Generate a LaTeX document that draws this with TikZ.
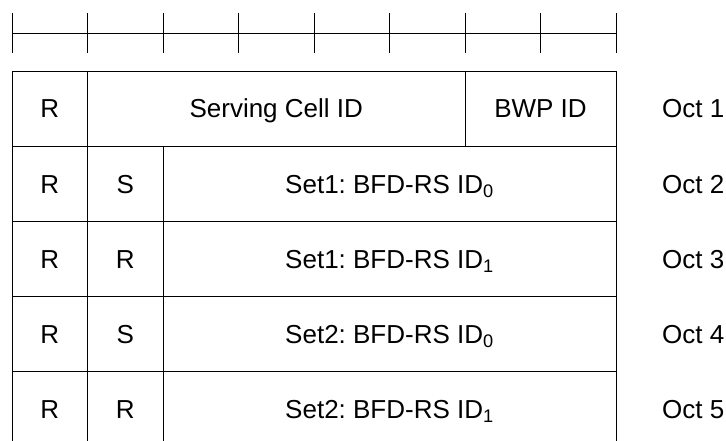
\documentclass[tikz,border=0pt]{standalone}
\usepackage{fontspec}
\setmainfont{Liberation Sans}
\usetikzlibrary{positioning}
\frenchspacing
\tikzset{
  fld/.style={
    draw=black, line width=0.9pt, inner sep=0pt, outer sep=0pt,
    minimum height=75.2pt, align=center, text height=24.7pt, text depth=6pt,
    font=\fontsize{26}{30}\selectfont
  },
  octlbl/.style={anchor=west, inner sep=0pt, text height=24.7pt, text depth=6pt,
    font=\fontsize{26}{30}\selectfont},
  rulerln/.style={draw=black, line width=0.9pt}
}

\begin{document}
\begin{tikzpicture}[x=1pt,y=-1pt]
  \useasboundingbox (0,0) rectangle (726,441);
  % bit ruler
  \draw[rulerln] (12,33) -- (616,33);
  \foreach \i in {0,...,8}
    \draw[rulerln] ({12+75.5*\i},13) -- ({12+75.5*\i},53);
  % octet 1
  \node[fld, minimum width=75.5pt] (r1a) at (49.75,108.6) {R};
  \node[fld, minimum width=377.5pt] (scid) at (276.25,108.6) {Serving Cell ID};
  \node[fld, minimum width=151pt] (bwp) at (540.5,108.6) {BWP ID};
  \node[octlbl] (oct1) at (662,108.6) {Oct 1};
  % octet 2
  \node[fld, minimum width=75.5pt] (r2a) at (49.75,183.8) {R};
  \node[fld, minimum width=75.5pt] (s2) at (125.25,183.8) {S};
  \node[fld, minimum width=453pt] (id20) at (389.5,183.8) {Set1: BFD-RS ID\textsubscript{0}};
  \node[octlbl] (oct2) at (662,183.8) {Oct 2};
  % octet 3
  \node[fld, minimum width=75.5pt] (r3a) at (49.75,259) {R};
  \node[fld, minimum width=75.5pt] (r3b) at (125.25,259) {R};
  \node[fld, minimum width=453pt] (id31) at (389.5,259) {Set1: BFD-RS ID\textsubscript{1}};
  \node[octlbl] (oct3) at (662,259) {Oct 3};
  % octet 4
  \node[fld, minimum width=75.5pt] (r4a) at (49.75,334.2) {R};
  \node[fld, minimum width=75.5pt] (s4) at (125.25,334.2) {S};
  \node[fld, minimum width=453pt] (id40) at (389.5,334.2) {Set2: BFD-RS ID\textsubscript{0}};
  \node[octlbl] (oct4) at (662,334.2) {Oct 4};
  % octet 5
  \node[fld, minimum width=75.5pt] (r5a) at (49.75,409.4) {R};
  \node[fld, minimum width=75.5pt] (r5b) at (125.25,409.4) {R};
  \node[fld, minimum width=453pt] (id51) at (389.5,409.4) {Set2: BFD-RS ID\textsubscript{1}};
  \node[octlbl] (oct5) at (662,409.4) {Oct 5};
\end{tikzpicture}
\end{document}
